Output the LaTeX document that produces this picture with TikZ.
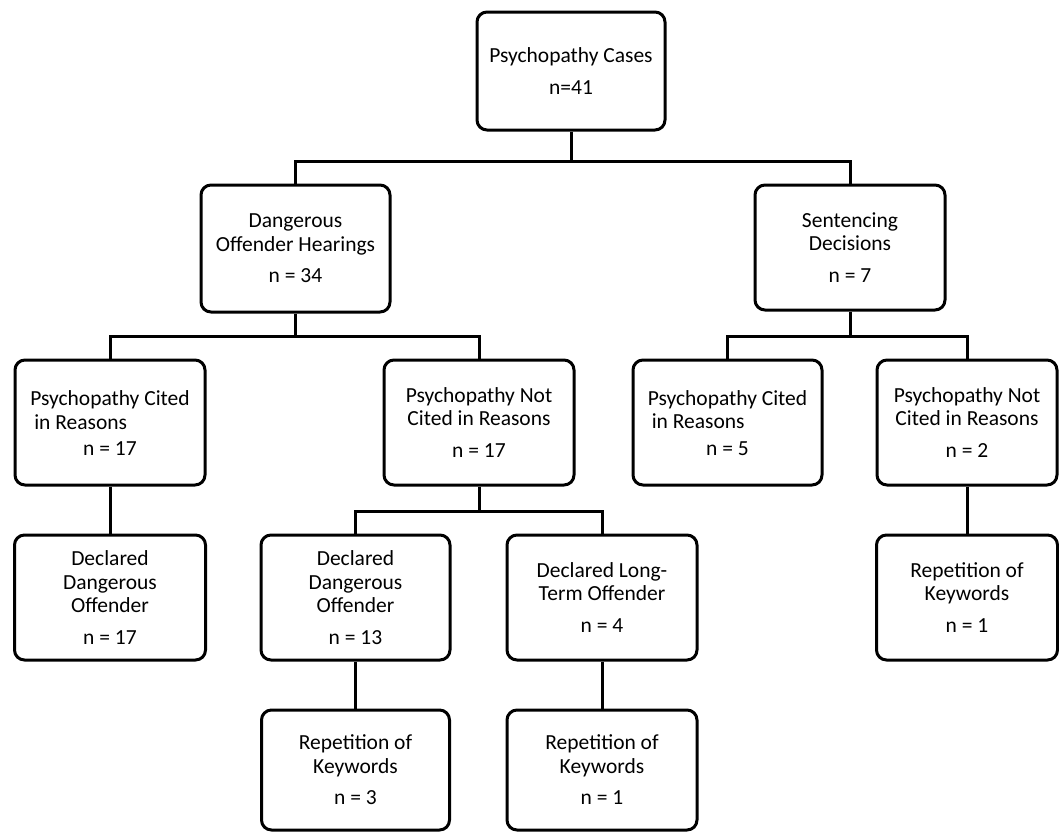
\documentclass[tikz,border=0pt]{standalone}
\usepackage{fontspec}
\setmainfont{Carlito}
\begin{document}
\begin{tikzpicture}[x=1pt,y=-1pt,
  box/.style={draw, line width=3pt, rounded corners=10pt, inner sep=0pt,
    align=center, font=\fontsize{21.5}{23.5}\selectfont},
  conn/.style={line width=3pt}]
\useasboundingbox (0,0) rectangle (1059,833);
\newcommand{\nl}{\\[8pt]}
% level 0
\node[box, minimum width=188pt, minimum height=118pt] (top) at (571,71) {Psychopathy Cases\nl n=41};
% level 1
\node[box, minimum width=189pt, minimum height=127pt] (doh) at (295.5,248.5) {Dangerous\\Offender Hearings\nl n = 34};
\node[box, minimum width=190pt, minimum height=125pt] (sd) at (850,247.5) {Sentencing\\Decisions\nl n = 7};
% level 2
\node[box, minimum width=190pt, minimum height=125pt] (pc17) at (110,422.5) {\begin{tabular}{@{}l@{}}Psychopathy Cited\\\hspace{4pt}in Reasons\end{tabular}\\[5pt] n = 17};
\node[box, minimum width=190pt, minimum height=125pt] (pnc17) at (479,422.5) {Psychopathy Not\\Cited in Reasons\nl n = 17};
\node[box, minimum width=189pt, minimum height=125pt] (pc5) at (727.5,422.5) {\begin{tabular}{@{}l@{}}Psychopathy Cited\\\hspace{4pt}in Reasons\end{tabular}\\[5pt] n = 5};
\node[box, minimum width=180pt, minimum height=125pt] (pnc2) at (967,422.5) {Psychopathy Not\\Cited in Reasons\nl n = 2};
% level 3
\node[box, minimum width=191pt, minimum height=125pt] (ddo17) at (110,597.5) {Declared\\Dangerous\\Offender\nl n = 17};
\node[box, minimum width=189pt, minimum height=125pt] (ddo13) at (355.5,597.5) {Declared\\Dangerous\\Offender\nl n = 13};
\node[box, minimum width=190pt, minimum height=125pt] (dlto) at (602,597.5) {Declared Long-\\Term Offender\nl n = 4};
\node[box, minimum width=181pt, minimum height=125pt] (repr) at (967,597.5) {Repetition of\\Keywords\nl n = 1};
% level 4
\node[box, minimum width=188pt, minimum height=120pt] (rep3) at (355.5,770) {Repetition of\\Keywords\nl n = 3};
\node[box, minimum width=190pt, minimum height=120pt] (rep1) at (602,770) {Repetition of\\Keywords\nl n = 1};
% connectors
\draw[conn] (top.south) -- ++(0,30) coordinate (j0) -| (doh.north);
\draw[conn] (j0) -| (sd.north);
\draw[conn] (doh.south) -- ++(0,23) coordinate (j1) -| (pc17.north);
\draw[conn] (j1) -| (pnc17.north);
\draw[conn] (sd.south) -- ++(0,25) coordinate (j2) -| (pc5.north);
\draw[conn] (j2) -| (pnc2.north);
\draw[conn] (pc17.south) -- (ddo17.north);
\draw[conn] (pnc17.south) -- ++(0,25) coordinate (j3) -| (ddo13.north);
\draw[conn] (j3) -| (dlto.north);
\draw[conn] (pnc2.south) -- (repr.north);
\draw[conn] (ddo13.south) -- (rep3.north);
\draw[conn] (dlto.south) -- (rep1.north);
\end{tikzpicture}
\end{document}
